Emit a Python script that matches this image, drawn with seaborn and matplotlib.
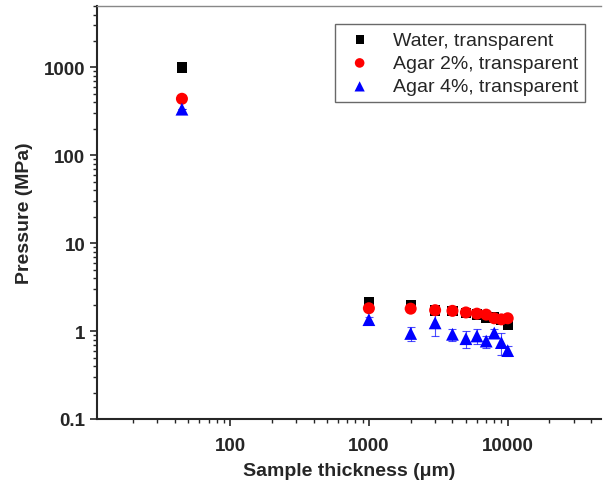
import matplotlib
matplotlib.use("Agg")
import matplotlib.pyplot as plt
import matplotlib.ticker as mticker
import numpy as np
import pandas as pd
import seaborn as sns

thickness = [45, 1000, 2000, 3000, 4000, 5000, 6000, 7000, 8000, 9000, 10000]
water = [1000, 2.12, 1.97, 1.72, 1.70, 1.62, 1.55, 1.42, 1.45, 1.33, 1.18]
water_err = [0, 0.08, 0.08, 0.08, 0.06, 0.06, 0.06, 0.06, 0.06, 0.06, 0.06]
agar2 = [440, 1.82, 1.80, 1.73, 1.70, 1.63, 1.58, 1.54, 1.40, 1.36, 1.40]
agar2_err = [0, 0.06, 0.08, 0.08, 0.08, 0.06, 0.06, 0.06, 0.06, 0.06, 0.06]
agar4 = [335, 1.35, 0.94, 1.24, 0.92, 0.82, 0.88, 0.77, 0.95, 0.74, 0.60]
agar4_err = [0, 0.10, 0.17, 0.36, 0.15, 0.17, 0.17, 0.12, 0.12, 0.20, 0.08]
series_names = ["Water, transparent", "Agar 2%, transparent", "Agar 4%, transparent"]

colors = ["#000000", "#ff0000", "#0000ff"]
markers = ["s", "o", "^"]
sizes = [55, 75, 85]

sns.set_style("ticks")
plt.rcParams['font.family'] = ['Liberation Sans', 'DejaVu Sans']

fig = plt.figure(figsize=(6.03, 4.81), dpi=100)
ax = fig.add_axes([97/603, 1-420/481, 504/603, 413/481])

vals = [water, agar2, agar4]
errs = [water_err, agar2_err, agar4_err]
rows = []
for name, v in zip(series_names, vals):
    for x, y in zip(thickness, v):
        rows.append({"thickness": x, "pressure": y, "series": name})
df = pd.DataFrame(rows)

for name, v, e, c in zip(series_names, vals, errs, colors):
    ax.errorbar(thickness, v, yerr=e, fmt='none', ecolor=c, elinewidth=0.8,
                capsize=3, capthick=0.8, alpha=0.7 if c == "#0000ff" else 1, zorder=2)

for name, c, m, s in zip(series_names, colors, markers, sizes):
    sub = df[df["series"] == name]
    sns.scatterplot(data=sub, x="thickness", y="pressure", color=c, marker=m,
                    s=s, edgecolor='none', linewidth=0, ax=ax, label=name, zorder=3)

ax.set_xscale("log")
ax.set_yscale("log")
ax.set_xlim(11, 47000)
ax.set_ylim(0.1, 5000)

ax.xaxis.set_major_locator(mticker.FixedLocator([100, 1000, 10000]))
ax.yaxis.set_major_locator(mticker.FixedLocator([0.1, 1, 10, 100, 1000]))
ax.xaxis.set_major_formatter(mticker.FuncFormatter(lambda v, p: f"{v:g}"))
ax.yaxis.set_major_formatter(mticker.FuncFormatter(lambda v, p: f"{v:g}"))
ax.xaxis.set_minor_locator(mticker.LogLocator(base=10, subs=np.arange(2, 10), numticks=20))
ax.yaxis.set_minor_locator(mticker.LogLocator(base=10, subs=np.arange(2, 10), numticks=20))
ax.xaxis.set_minor_formatter(mticker.NullFormatter())
ax.yaxis.set_minor_formatter(mticker.NullFormatter())

ax.tick_params(which='major', direction='out', length=5, width=1.2, labelsize=13.5)
ax.tick_params(axis='x', which='major', pad=8)
ax.tick_params(which='minor', direction='out', length=3, width=1.0)
for lab in ax.get_xticklabels() + ax.get_yticklabels():
    lab.set_fontweight('bold')

ax.spines['left'].set_linewidth(1.5)
ax.spines['bottom'].set_linewidth(1.5)
ax.spines['top'].set_color('#888888')
ax.spines['top'].set_linewidth(1.0)
ax.spines['right'].set_visible(False)

ax.set_xlabel("Sample thickness (μm)", fontsize=14, fontweight='bold', labelpad=6)
ax.set_ylabel("Pressure (MPa)", fontsize=14, fontweight='bold', labelpad=8)

leg = ax.legend(loc='upper right', bbox_to_anchor=(0.968, 0.956), frameon=True,
                fancybox=False, edgecolor='#444444', fontsize=14,
                handletextpad=0.8, borderpad=0.35, labelspacing=0.3,
                handlelength=1.8, markerscale=0.8, borderaxespad=0)
leg.get_frame().set_linewidth(1.0)

fig.savefig("out.png", dpi=100)
